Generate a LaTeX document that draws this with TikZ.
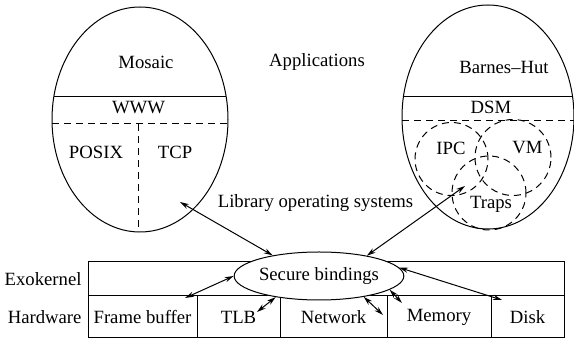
\documentclass[tikz,border=0pt]{standalone}
\usepackage{fontspec}
\setmainfont{Liberation Serif}
\usetikzlibrary{shapes.geometric}
\usetikzlibrary{positioning}
\usetikzlibrary{arrows.meta}

\tikzset{
  oval/.style={draw, ellipse, inner sep=0pt},
  cell/.style={draw, rectangle, outer sep=0pt, inner sep=0pt, minimum height=21pt},
  dashline/.style={dash pattern=on 3.5pt off 2.5pt},
  bind/.style={<->, >={Stealth[open, length=4.5pt, width=2.6pt]}}
}

\begin{document}
\begin{tikzpicture}[x=0.5pt, y=-0.5pt, line width=0.5pt,
    font=\fontsize{9.35}{11}\selectfont]
    \useasboundingbox (0,0) rectangle (574,341);

    % applications and library operating systems
    \node(mosaicos) [oval, minimum width=88pt, minimum height=112.5pt] at (140, 119.5) {};
    \node(barnesos) [oval, minimum width=86pt, minimum height=112pt] at (488, 117) {};
    \draw (53.8, 97) -- (226.2, 97);
    \draw[dashline] (52, 124) -- (228, 124);
    \draw[dashline] (138, 124) -- (138, 232);
    \draw (403.4, 97) -- (572.6, 97);
    \draw[dashline] (402, 121) -- (574, 121);
    \node(ipcring) [draw, dashline, circle, minimum size=36.5pt] at (451.5, 159) {};
    \node(vmring) [draw, dashline, circle, minimum size=38pt] at (513, 157.5) {};
    \node(trapsring) [draw, dashline, circle, minimum size=37pt] at (489, 193) {};

    \node(mosaic) at (146, 62) {Mosaic};
    \node(apps) at (317, 62) {Applications};
    \node(barnes) at (504, 67) {Barnes--Hut};
    \node(www) at (138.5, 108) {WWW};
    \node(dsm) at (491, 107.5) {DSM};
    \node(posix) at (96, 152) {POSIX};
    \node(tcp) at (175, 152) {TCP};
    \node(ipc) at (451, 148) {IPC};
    \node(vm) at (527.5, 148) {VM};
    \node(traps) at (491, 204) {Traps};
    \node(libos) at (315.5, 203) {Library operating systems};

    % exokernel and hardware
    \node(fb) [cell, minimum width=54.5pt] at (142.5, 317) {Frame buffer};
    \node(tlb) [cell, right=0pt of fb, minimum width=41.5pt] {TLB};
    \node(net) [cell, right=0pt of tlb, minimum width=53.5pt] {Network};
    \node(mem) [cell, right=0pt of net, minimum width=52pt] {Memory};
    \node(disk) [cell, right=0pt of mem, minimum width=36.5pt] {Disk};
    \node(exo) [cell, anchor=south west, minimum width=238pt, minimum height=17pt] at (fb.north west) {};
    \node(exolabel) [left=3pt of exo, inner sep=0pt] {Exokernel};
    \node(hwlabel) [left=3pt of fb, inner sep=0pt] {Hardware};
    \node(secure) [oval, fill=white, minimum width=67pt, minimum height=24pt] at (319, 276) {Secure bindings};

    \coordinate(mosaicend) at (180, 202);
    \coordinate(trapsend) at (465, 186);
    \coordinate(fbend) at (185, 298);
    \coordinate(tlbend) at (257, 312);
    \coordinate(netend) at (383, 315);
    \coordinate(memend) at (402, 303);
    \coordinate(diskend) at (502, 300);

    \draw[bind] (mosaicend) -- (secure.156);
    \draw[bind] (trapsend) -- (secure.23);
    \draw[bind] (secure.180) -- (fbend);
    \draw[bind] (secure.206) -- (tlbend);
    \draw[bind] (secure.335) -- (netend);
    \draw[bind] (secure.349) -- (memend);
    \draw[bind] (secure.6) -- (diskend);
  \end{tikzpicture}
\end{document}
